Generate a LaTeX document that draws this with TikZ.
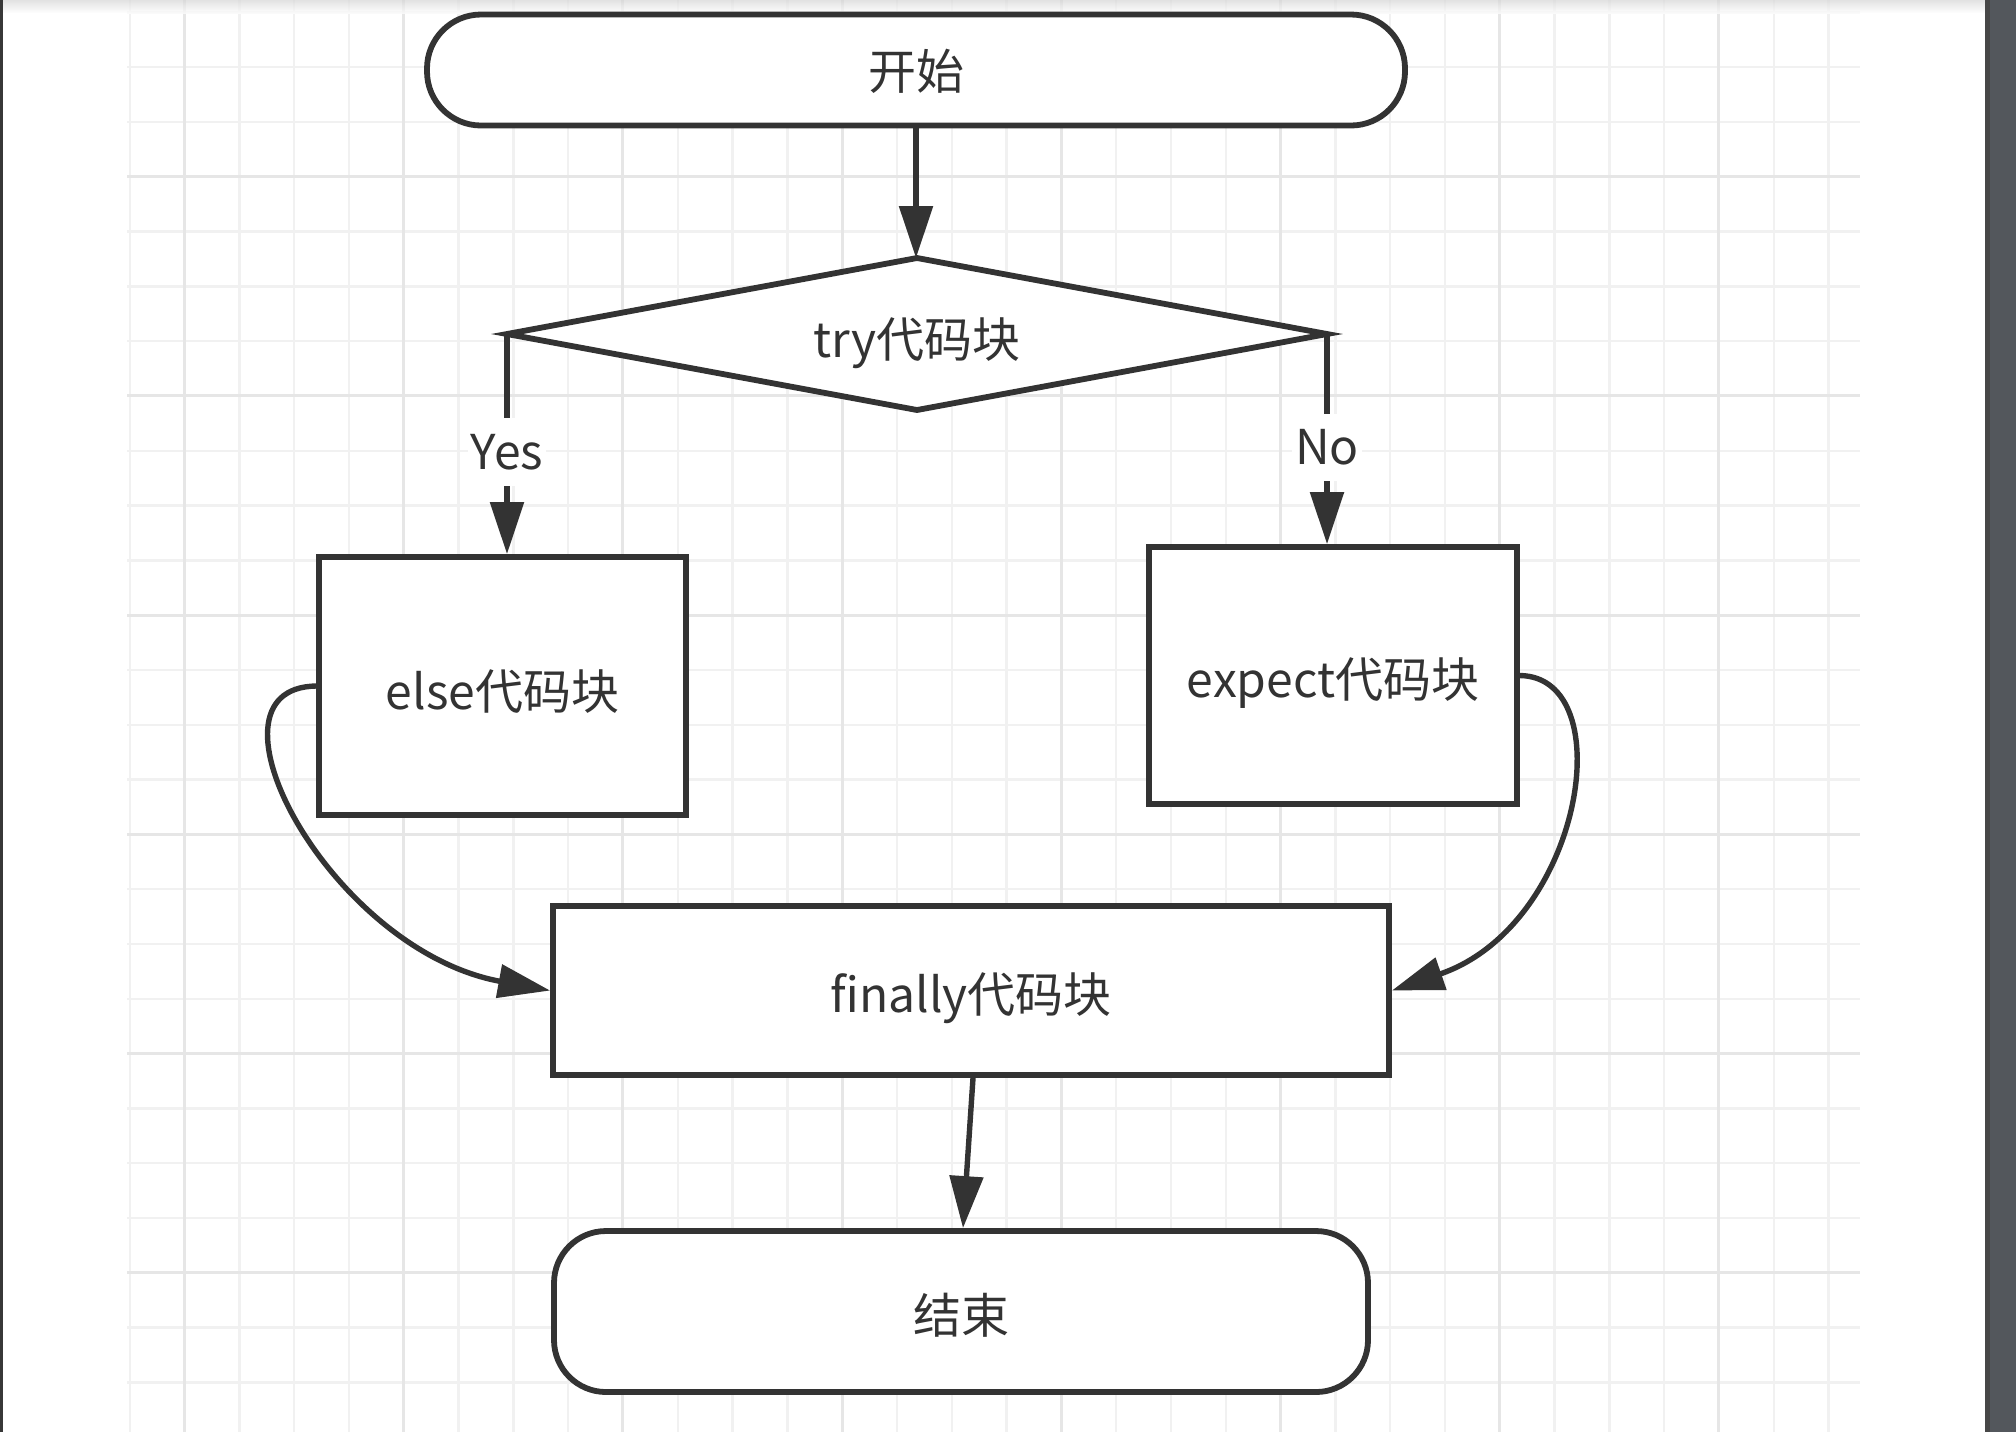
\documentclass[tikz,border=0pt]{standalone}
\usepackage{fontspec}
\setmainfont{Noto Sans CJK SC}
\usetikzlibrary{shapes.geometric,arrows.meta}
\definecolor{ink}{HTML}{333333}
\definecolor{minorgrid}{HTML}{F1F1F1}
\definecolor{majorgrid}{HTML}{E6E6E6}
\definecolor{frame}{HTML}{53575C}
\begin{document}
\begin{tikzpicture}[x=0.5pt,y=-0.5pt,font=\fontsize{24}{28}\selectfont]
\tikzstyle{round node}=[rectangle,rounded corners=26pt,draw=ink,fill=white,line width=2.9pt,text=ink,text height=21.5pt,text depth=0pt]
\tikzstyle{box node}=[rectangle,draw=ink,fill=white,line width=2.9pt,text=ink,text height=21.5pt,text depth=0pt]
\tikzset{
	choice node/.style={diamond,draw=ink,fill=white,line width=2.9pt,text=ink,text height=23.5pt,text depth=0pt,inner sep=0pt,outer sep=0pt,shape aspect=5,minimum width=410pt,minimum height=76pt},
	tag node/.style={fill=white,text=ink,inner xsep=1.5pt,inner ysep=8pt},
	arrow line/.style={draw=ink,line width=2.7pt,-{Triangle[length=26pt,width=16.5pt]}}
}
\useasboundingbox (0,0) rectangle (2016,1432);
\fill[white] (0,0) rectangle (2016,1432);
\foreach \i in {0,...,31}
	\draw[minorgrid,line width=1.2pt] ({129.7+54.8*\i},0) -- ({129.7+54.8*\i},1432);
\foreach \j in {0,...,25}
	\draw[minorgrid,line width=1.2pt] (127,{12.3+54.8*\j}) -- (1860,{12.3+54.8*\j});
\foreach \i in {0,...,7}
	\draw[majorgrid,line width=1.5pt] ({184.5+219.2*\i},0) -- ({184.5+219.2*\i},1432);
\foreach \j in {0,...,5}
	\draw[majorgrid,line width=1.5pt] (127,{176.7+219.2*\j}) -- (1860,{176.7+219.2*\j});
\shade[top color=black!16,bottom color=white,opacity=0.7] (3,0) rectangle (1985,13);
\fill[black!78] (0,0) rectangle (3,1432);
\fill[frame] (1985,0) rectangle (2016,1432);
\fill[black!72] (1985,0) rectangle (1990,1432);

\node[round node,rounded corners=27pt,text height=19pt,minimum width=489pt,minimum height=55.5pt] (start) at (916,70) {开始};
\node[choice node] (try) at (917,334) {try代码块};
\node[box node,text height=23.5pt,minimum width=183.5pt,minimum height=129pt] (els) at (502.5,686) {else代码块};
\node[box node,minimum width=184pt,minimum height=128.5pt] (exc) at (1333,675.5) {expect代码块};
\node[box node,minimum width=418pt,minimum height=84.5pt] (fin) at (971,990.5) {finally代码块};
\node[round node,minimum width=407pt,minimum height=80.5pt] (stop) at (961,1311.5) {结束};

\draw[arrow line] (start.south) -- (start.south |- try.north);
\draw[arrow line] (try.west) -- (try.west |- els.north) node[tag node,pos=0.535] (yes) {Yes};
\draw[arrow line] (try.east) -- (try.east |- exc.north) node[tag node,pos=0.54] (no) {No};
\draw[arrow line] (els.west) .. controls (190,688) and (330,950) .. (fin.west);
\draw[arrow line] (exc.east) .. controls (1622,677) and (1583,925) .. (fin.east);
\draw[arrow line] ([xshift=1pt]fin.south) -- ([xshift=1pt]stop.north);
\end{tikzpicture}
\end{document}
